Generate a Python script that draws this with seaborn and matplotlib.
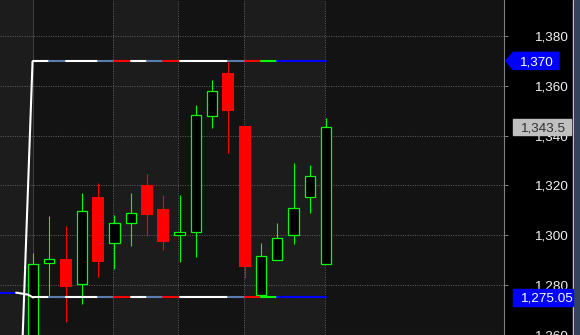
import numpy as np
import pandas as pd
import matplotlib
matplotlib.use("Agg")
import matplotlib.pyplot as plt
import seaborn as sns
from matplotlib.patches import Rectangle, Polygon
from matplotlib.transforms import IdentityTransform

# ---------------- data ----------------
opens  = [1250.0, 1288.9, 1290.4, 1280.5, 1315.2, 1296.9, 1304.9, 1320.0, 1310.4, 1300.3,
          1301.5, 1347.7, 1365.2, 1344.0, 1276.0, 1290.1, 1300.1, 1315.3, 1288.3]
highs  = [1292.8, 1307.6, 1303.6, 1316.8, 1320.8, 1308.0, 1316.8, 1324.8, 1316.0, 1316.0,
          1352.3, 1362.4, 1369.7, 1344.0, 1296.8, 1304.8, 1329.2, 1328.4, 1347.2]
lows   = [1240.0, 1275.05, 1265.3, 1272.4, 1283.3, 1286.4, 1295.7, 1299.7, 1294.1, 1289.3,
          1291.3, 1342.9, 1332.9, 1282.7, 1275.05, 1290.1, 1296.4, 1308.8, 1288.3]
closes = [1288.4, 1290.3, 1279.2, 1309.9, 1289.3, 1305.1, 1309.1, 1308.0, 1297.3, 1301.5,
          1348.3, 1357.9, 1349.7, 1287.3, 1291.9, 1299.1, 1311.1, 1323.9, 1343.5]

upper_level = 1370.0
lower_level = 1275.05
prev_level = 1277.0
last_price = 1343.5

segment_colors = ["white", "steel", "white", "white", "steel", "red", "white", "steel", "red",
                  "white", "white", "white", "steel", "red", "green", "blue", "blue", "blue"]

y_ticks = [1260, 1280, 1300, 1320, 1340, 1360, 1380]
y_tick_labels = ["1,260", "1,280", "1,300", "1,320", "1,340", "1,360", "1,380"]

upper_label = "1,370"
lower_label = "1,275.05"
last_label = "1,343.5"

# ---------------- style ----------------
sns.set_style("dark")
plt.rcParams["font.family"] = ["Liberation Sans", "DejaVu Sans"]

COL = {"white": "#ffffff", "steel": "#5a7cb0", "red": "#ff0000",
       "green": "#00ff00", "blue": "#0000ff"}
GRID = "#5a5a5a"
DOT = (0, (1, 1.3))

fig = plt.figure(figsize=(5.8, 3.35), dpi=100, facecolor="black")
W, H = 580, 335
ax = fig.add_axes([0, 0, 504 / W, 1])
ax.set_facecolor("#131313")
ax.set_xlim(-2.03, 28.93)
ax.set_ylim(1260.06, 1394.44)

# alternating session background
for a, b in [(-2.1, -0.03), (4.93, 8.93), (12.93, 17.95)]:
    ax.axvspan(a, b, color="#1c1c1c", lw=0, zorder=0)

# grid
for v in y_ticks:
    ax.axhline(v, color=GRID, lw=0.75, ls=DOT, zorder=0.5)
for xv in [4.93, 8.93, 12.93, 17.95]:
    ax.axvline(xv, color=GRID, lw=0.75, ls=DOT, zorder=0.5)
ax.axvline(-0.03, color="#3c3c3c", lw=0.8, zorder=0.6)

# candles
x = np.arange(len(opens))
for i in x:
    o, h, l, c = opens[i], highs[i], lows[i], closes[i]
    up = c >= o
    col = COL["green"] if up else COL["red"]
    ax.vlines(i, l, h, color=col, lw=0.8, zorder=2)
    if up:
        ax.bar(i, c - o, bottom=o, width=0.63, facecolor="black",
               edgecolor=col, linewidth=0.9, zorder=3)
    else:
        ax.bar(i, o - c, bottom=c, width=0.737, facecolor=col,
               edgecolor="none", linewidth=0, zorder=3)

# level lines with per-segment colours (seaborn lineplot)
rows = []
for k, cname in enumerate(segment_colors):
    for lvl_name, lvl in [("u", upper_level), ("l", lower_level)]:
        x0 = -0.03 if k == 0 else k
        rows.append({"x": x0, "y": lvl, "seg": f"{lvl_name}{k:02d}", "c": cname})
        rows.append({"x": k + 1, "y": lvl, "seg": f"{lvl_name}{k:02d}", "c": cname})
seg_df = pd.DataFrame(rows)
palette = {s: COL[c] for s, c in zip(seg_df["seg"], seg_df["c"])}
sns.lineplot(data=seg_df, x="x", y="y", hue="seg", palette=palette, units="seg",
             estimator=None, sort=False, legend=False, lw=1.5, ax=ax, zorder=4)

# slanted left edge of the range box
ax.plot([-0.03, -0.69], [upper_level, 1250.0], color="white", lw=1.5, zorder=4,
        solid_capstyle="butt")
# previous level stub and connector
ax.plot([-2.1, -1.04], [prev_level, prev_level], color=COL["blue"], lw=1.5, zorder=4)
ax.plot([-1.04, -0.31, 0.0], [prev_level, 1276.2, lower_level], color="white", lw=1.5,
        zorder=4)

ax.set_xlabel("")
ax.set_ylabel("")
ax.set_xticks([])

# right axis
ax.yaxis.tick_right()
ax.set_yticks(y_ticks)
ax.set_yticklabels(y_tick_labels)
ax.tick_params(axis="y", direction="out", length=2.9, width=0.72, color="#808080",
               pad=43.2, labelcolor="#f0f0f0", labelsize=9.7, right=True, left=False)
for t in ax.get_yticklabels():
    t.set_ha("right")
for s in ["left", "top", "bottom"]:
    ax.spines[s].set_visible(False)
ax.spines["right"].set_color("#808080")
ax.spines["right"].set_linewidth(0.8)
ax.grid(False)

# right-edge strips
fig.patches.append(Rectangle((573 / W, 0), 1.2 / W, 1, transform=fig.transFigure,
                             color="#efdfa8", zorder=5))
fig.patches.append(Rectangle((574.2 / W, 0), 6 / W, 1, transform=fig.transFigure,
                             color="#36435c", zorder=5))

# price tags
fig.canvas.draw()
ident = IdentityTransform()


def ypix(v):
    return ax.transData.transform((0, v))[1]


yu = ypix(upper_level)
fig.patches.append(Polygon([(505.7, yu), (513.3, yu + 8.5), (559, yu + 8.5), (559, yu - 8.5),
                            (513.3, yu - 8.5)], closed=True, transform=ident,
                           color="#0000ff", zorder=6))
fig.text(536, yu, upper_label, transform=ident, ha="center", va="center_baseline",
         color="white", fontsize=9.7, zorder=7)

yl = ypix(last_price)
fig.patches.append(Rectangle((513, yl - 8.3), 57.7, 16.6, transform=ident,
                             color="#c0c0c0", zorder=6))
fig.text(542.5, yl, last_label, transform=ident, ha="center", va="center_baseline",
         color="#303030", fontsize=9.7, zorder=7)

yb = ypix(lower_level)
fig.patches.append(Rectangle((513, yb - 8.5), 60.3, 17, transform=ident,
                             color="#0000ff", zorder=6))
fig.text(546.5, yb, lower_label, transform=ident, ha="center", va="center_baseline",
         color="white", fontsize=9.7, zorder=7)

fig.savefig("out.png", dpi=100, facecolor="black")
